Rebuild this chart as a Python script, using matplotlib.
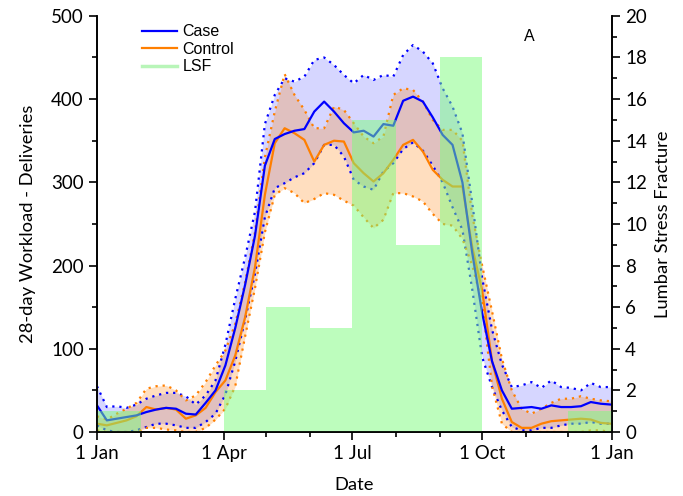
from matplotlib import pyplot as plt
import matplotlib.dates as mdates
from matplotlib.lines import Line2D
import numpy as np
import pandas as pd

plt.rcParams['font.family'] = ['Lato', 'DejaVu Sans']

# weekly readings (day 0, 7, 14, ... 364)
dates = pd.date_range('2019-01-01', periods=53, freq='7D')

case_mean = [32, 14, 16, 18, 20, 24, 27, 29, 28, 22,
             21, 35, 50, 80, 125, 177, 236, 320, 352, 358,
             362, 364, 385, 397, 385, 371, 360, 362, 355, 370,
             368, 398, 403, 397, 378, 357, 345, 300, 215, 143,
             85, 50, 28, 29, 30, 28, 32, 30, 30, 31,
             36, 34, 33]
case_upper = [55, 30, 31, 29, 33, 40, 44, 47, 47, 43,
              33, 44, 62, 105, 160, 210, 265, 370, 405, 425,
              421, 427, 447, 450, 441, 429, 419, 429, 423, 429,
              427, 453, 465, 457, 443, 413, 391, 359, 275, 185,
              123, 81, 54, 56, 60, 53, 62, 54, 53, 50,
              59, 54, 54]
case_lower = [8, 2, 0, 0, 2, 6, 10, 10, 8, 5,
              5, 12, 22, 45, 85, 135, 190, 258, 293, 299,
              306, 311, 323, 345, 345, 331, 303, 295, 291, 313,
              323, 340, 348, 338, 320, 300, 270, 243, 171, 90,
              54, 26, 6, 2, 2, 5, 5, 8, 10, 10,
              12, 10, 10]

ctrl_mean = [10, 8, 11, 14, 19, 30, 27, 29, 27, 16,
             20, 29, 48, 62, 92, 138, 198, 285, 347, 365,
             359, 351, 325, 345, 350, 349, 323, 311, 301, 311,
             327, 345, 351, 337, 315, 303, 295, 295, 222, 170,
             85, 40, 12, 5, 5, 10, 13, 14, 15, 16,
             15, 11, 10]
ctrl_upper = [19, 15, 22, 28, 35, 52, 55, 56, 50, 38,
              44, 60, 80, 98, 130, 180, 240, 330, 385, 430,
              405, 387, 365, 365, 391, 387, 371, 355, 347, 355,
              405, 413, 411, 397, 375, 363, 363, 350, 260, 200,
              145, 88, 50, 28, 22, 28, 35, 40, 40, 43,
              40, 38, 37]
ctrl_lower = [2, 0, 0, 0, 0, 5, 5, 3, 2, 0,
              0, 5, 15, 28, 55, 115, 173, 240, 285, 293,
              287, 275, 280, 287, 285, 278, 272, 258, 245, 255,
              287, 287, 283, 277, 262, 250, 248, 232, 200, 155,
              55, 10, 0, 0, 0, 0, 0, 0, 0, 0,
              2, 2, 0]

# monthly lumbar stress fracture counts
months = pd.date_range('2019-01-01', periods=12, freq='MS')
lsf = [1, 0, 0, 2, 6, 5, 15, 9, 18, 0, 0, 1]

tick_dates = pd.to_datetime(['2019-01-01', '2019-04-01', '2019-07-01', '2019-10-01', '2020-01-01'])
tick_labels = ['1 Jan', '1 Apr', '1 Jul', '1 Oct', '1 Jan']

blue = '#0000ff'
orange = '#ff7f00'
green = '#7cfc7c'

fig = plt.figure(figsize=(6.83, 4.96), dpi=100)
ax1 = fig.add_axes([0.142, 0.129, 0.754, 0.839])
ax2 = ax1.twinx()

dots = (0, (1, 2.2))
ax1.fill_between(dates, case_lower, case_upper, color=blue, alpha=0.16, lw=0)
ax1.fill_between(dates, ctrl_lower, ctrl_upper, color=orange, alpha=0.25, lw=0)
ax1.plot(dates, case_upper, color=blue, ls=dots, lw=1.6)
ax1.plot(dates, case_lower, color=blue, ls=dots, lw=1.6)
ax1.plot(dates, ctrl_upper, color=orange, ls=dots, lw=1.6)
ax1.plot(dates, ctrl_lower, color=orange, ls=dots, lw=1.6)
ax1.plot(dates, ctrl_mean, color=orange, lw=1.6)
ax1.plot(dates, case_mean, color=blue, lw=1.6)

widths = [m.days_in_month for m in months]
ax2.bar(months, lsf, width=widths, align='edge', color=green, alpha=0.5, lw=0)

start, end = pd.Timestamp('2019-01-01'), pd.Timestamp('2020-01-01')
ax1.set_xlim(start, end)
ax1.set_ylim(0, 500)
ax2.set_ylim(0, 20)

ax1.set_xticks(tick_dates)
ax1.set_xticklabels(tick_labels)
ax1.xaxis.set_minor_locator(mdates.MonthLocator())
ax1.set_yticks(np.arange(0, 501, 100))
ax1.set_yticks(np.arange(0, 501, 50), minor=True)
ax2.set_yticks(np.arange(0, 21, 2))
ax2.set_yticks(np.arange(0, 21, 1), minor=True)

for ax in (ax1, ax2):
    ax.spines['top'].set_visible(False)
    for s in ('left', 'right', 'bottom'):
        ax.spines[s].set_linewidth(1.2)
    ax.tick_params(which='major', direction='out', length=6, width=1.2, labelsize=13.5)
    ax.tick_params(which='minor', direction='out', length=3.5, width=1.2)

ax1.set_xlabel('Date', fontsize=13.2, labelpad=11)
ax1.set_ylabel('28-day Workload - Deliveries', fontsize=13.2, labelpad=11)
ax2.set_ylabel('Lumbar Stress Fracture', fontsize=13.2, labelpad=6)

handles = [Line2D([], [], color=blue, lw=1.6),
           Line2D([], [], color=orange, lw=1.6),
           Line2D([], [], color='#b8f5b8', lw=2.5)]
ax1.legend(handles, ['Case', 'Control', 'LSF'], loc='upper left', bbox_to_anchor=(0.075, 0.995),
           frameon=False, prop={'family': 'Liberation Sans', 'size': 11.5},
           handlelength=2.2, handletextpad=0.35, labelspacing=0.15, borderaxespad=0)
ax1.text(0.83, 0.94, 'A', transform=ax1.transAxes, fontsize=11.5, family='Liberation Sans')

fig.savefig('out.png', dpi=100)
